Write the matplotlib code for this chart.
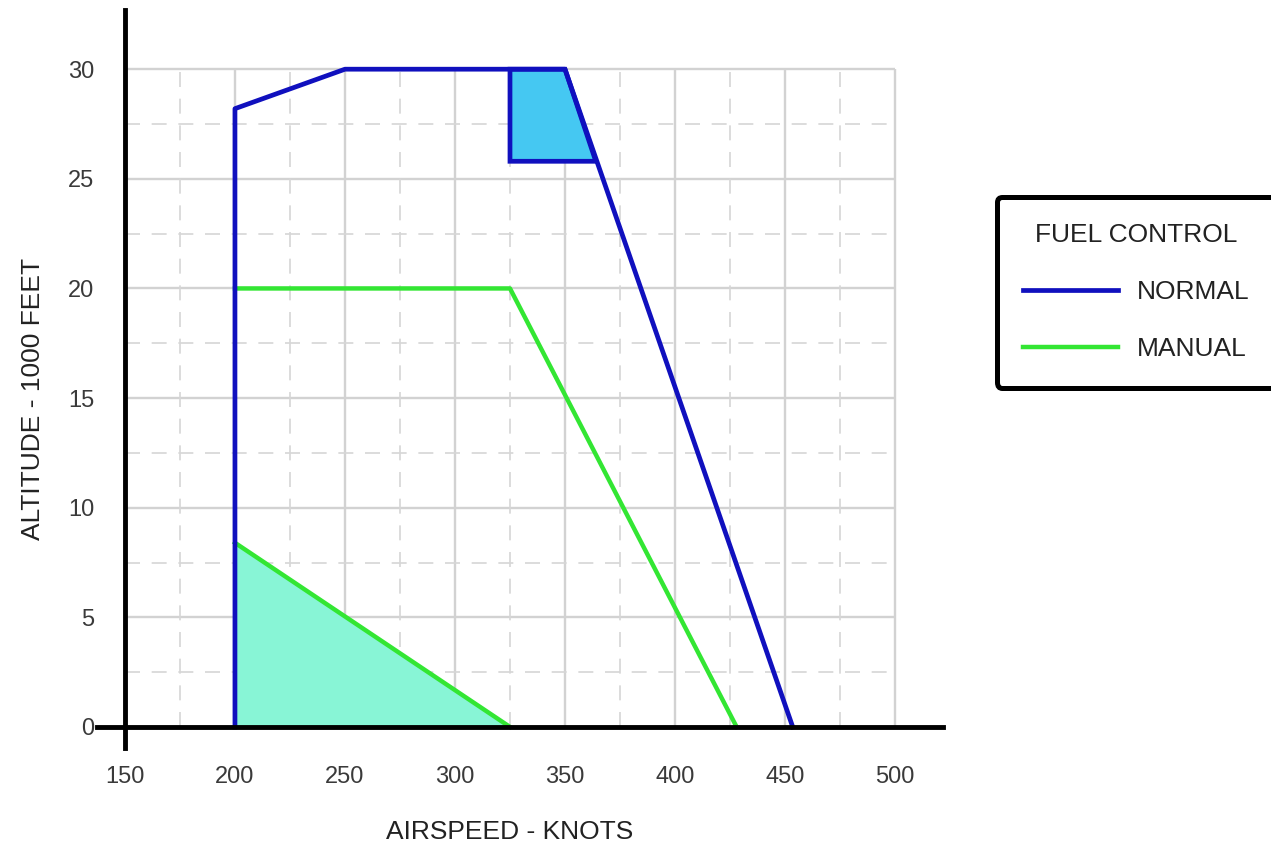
import matplotlib.pyplot as plt
from matplotlib.lines import Line2D

plt.rcParams['font.family'] = ['Liberation Sans', 'DejaVu Sans']

# data (airspeed in knots, altitude in 1000 ft)
normal_x = [200, 200, 250, 350, 453.5]
normal_y = [0, 28.2, 30, 30, 0]
manual_x = [200, 325, 428]
manual_y = [20, 20, 0]
manual_low_x = [200, 325]
manual_low_y = [8.4, 0]
quad_x = [325, 350, 364, 325]
quad_y = [30, 30, 25.8, 25.8]
tri_x = [200, 200, 325]
tri_y = [0, 8.4, 0]
xticks = [150, 200, 250, 300, 350, 400, 450, 500]
yticks = [0, 5, 10, 15, 20, 25, 30]
xminor = [175, 225, 275, 325, 375, 425, 475]
yminor = [2.5, 7.5, 12.5, 17.5, 22.5, 27.5]

blue = '#1010BE'
green = '#33E633'

W, H = 1271, 847
fig = plt.figure(figsize=(W / 100, H / 100), dpi=100)
ax = fig.add_axes([97 / W, 1 - 748 / H, (943 - 97) / W, (748 - 10) / H])
ax.set_xlim(137.3, 521.8)
ax.set_ylim(-0.96, 32.7)

# grid only inside 150..500 / 0..30
ax.vlines(xticks[1:], 0, 30, color='#d2d2d2', lw=1.7, zorder=1)
ax.hlines(yticks[1:], 150, 500, color='#d2d2d2', lw=1.7, zorder=1)
ax.vlines(xminor, 0, 30, color='#d6d6d6', lw=1.2, linestyles=(0, (9, 7)), zorder=1)
ax.hlines(yminor, 150, 500, color='#d6d6d6', lw=1.2, linestyles=(0, (9, 7)), zorder=1)

# filled areas
ax.fill(tri_x, tri_y, color='#88F5D6', lw=0, zorder=2)
ax.fill(quad_x, quad_y, facecolor='#45C8F2', edgecolor=blue, lw=3.4, zorder=3)

# limit lines
ax.plot(manual_x, manual_y, color=green, lw=3.2, zorder=4)
ax.plot(manual_low_x, manual_low_y, color=green, lw=3.2, zorder=4)
ax.plot(normal_x, normal_y, color=blue, lw=3.4, zorder=5)

# axes crossing at (150, 0)
for s in ['top', 'right']:
    ax.spines[s].set_visible(False)
ax.spines['left'].set_position(('data', 150))
ax.spines['bottom'].set_position(('data', 0))
ax.spines['left'].set_linewidth(3.5)
ax.spines['bottom'].set_linewidth(3.5)
ax.spines['left'].set_zorder(6)
ax.spines['bottom'].set_zorder(6)

ax.set_xticks(xticks)
ax.set_yticks(yticks)
ax.tick_params(length=0, labelsize=17, labelcolor='#3a3a3a')
ax.tick_params(axis='x', pad=28)
ax.tick_params(axis='y', pad=22)
ax.set_facecolor('none')

fig.text(510 / W, 1 - 832 / H, 'AIRSPEED - KNOTS', fontsize=19, color='#222222',
         ha='center', va='center')
fig.text(33 / W, 1 - 399 / H, 'ALTITUDE - 1000 FEET', fontsize=19, color='#222222',
         ha='center', va='center', rotation=90)

handles = [Line2D([], [], color=blue, lw=3.4), Line2D([], [], color=green, lw=3.2)]
leg = fig.legend(handles, ['NORMAL', 'MANUAL'], title='FUEL CONTROL',
                 loc='upper left', bbox_to_anchor=(997 / W, 1 - 197 / H),
                 borderaxespad=0, fontsize=19, title_fontsize=19,
                 handlelength=3.6, handletextpad=0.7, labelspacing=1.25,
                 borderpad=1.0, fancybox=True, frameon=True, framealpha=1)
leg.get_frame().set_edgecolor('black')
leg.get_frame().set_linewidth(3.6)
leg.get_title().set_color('#222222')
for t in leg.get_texts():
    t.set_color('#222222')

fig.savefig('out.png', dpi=100)
